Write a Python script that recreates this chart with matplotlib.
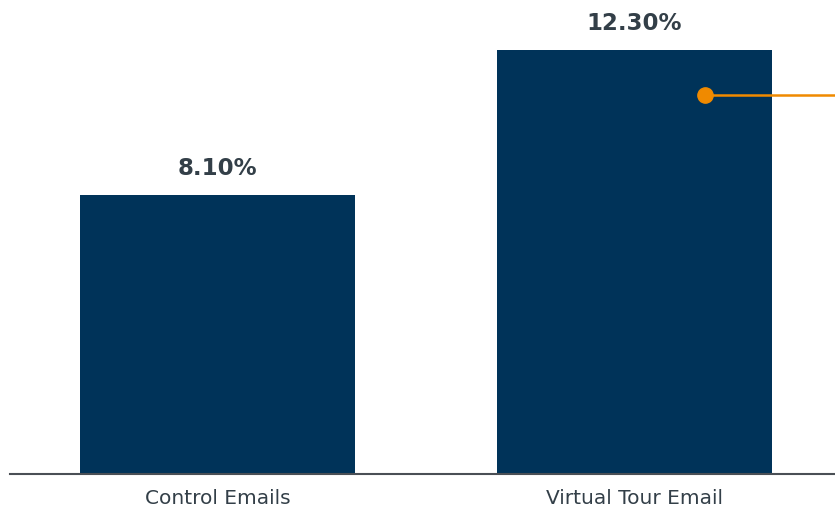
import matplotlib
matplotlib.use("Agg")
import matplotlib.pyplot as plt

categories = ["Control Emails", "Virtual Tour Email"]
rates = [8.10, 12.30]
value_labels = ["8.10%", "12.30%"]
callout_value = 11.0
callout_x = 1.17

bar_color = "#003359"
text_color = "#333F48"
accent = "#F08A00"

fig = plt.figure(figsize=(8.35, 5.1), dpi=100)
ax = fig.add_axes([10 / 835, 1 - 475 / 510, 825 / 835, 475 / 510])

x = range(len(categories))
bars = ax.bar(x, rates, width=0.66, color=bar_color, zorder=2)

for rect, lab in zip(bars, value_labels):
    ax.annotate(lab, (rect.get_x() + rect.get_width() / 2, rect.get_height()),
                xytext=(0, 11), textcoords="offset points", ha="center", va="bottom",
                fontsize=16.5, fontweight="bold", color=text_color)

ax.set_xlim(-0.4976, 1.4808)
ax.set_ylim(0, 475 / 34.5)

# orange callout line running off the right edge
ax.plot([callout_x, ax.get_xlim()[1]], [callout_value, callout_value],
        color=accent, lw=1.8, zorder=3, clip_on=False, solid_capstyle="butt")
ax.plot([callout_x], [callout_value], "o", color=accent, markersize=11, zorder=4)

ax.set_xticks(list(x))
ax.set_xticklabels(categories, fontsize=14.5, color=text_color)
ax.tick_params(axis="x", length=0, pad=10)
ax.set_yticks([])
for s in ["top", "right", "left"]:
    ax.spines[s].set_visible(False)
ax.spines["bottom"].set_color("#4A4F55")
ax.spines["bottom"].set_linewidth(1.5)

fig.savefig("out.png", dpi=100)
